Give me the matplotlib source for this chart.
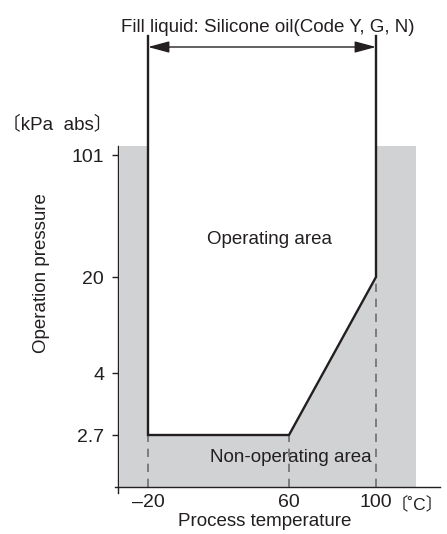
import numpy as np
import matplotlib
matplotlib.use("Agg")
import matplotlib.pyplot as plt

plt.rcParams['font.family'] = ['Liberation Sans', 'Noto Sans CJK JP', 'DejaVu Sans']

# ---- data ----
boundary_temp = [-20, -20, 60, 100, 100]          # operating-area boundary (°C)
boundary_pres = [180, 2.7, 2.7, 20, 180]           # kPa abs
x_ticks = [-20, 60, 100]
x_ticklabels = ["\u201320", "60", "100"]
y_ticks = [2.7, 4, 20, 101]
y_ticklabels = ["2.7", "4", "20", "101"]
dashed_temp = [-20, 60, 100]
dashed_top = [2.7, 2.7, 20]
gray_pres_top = 107

# schematic (non-linear) axis mappings
T_anchor = np.array([-60, -20, 60, 100, 160.0])
T_pos = np.array([77.5, 148, 289, 376, 511.5])
P_anchor = np.array([0.0, 2.7, 4, 20, 101, 400])
P_pos = np.array([52 - 2.7 * 47.7, 52, 114, 210, 332, 332 + 299 * 1.506])

def fx(t): return np.interp(t, T_anchor, T_pos)
def ix(p): return np.interp(p, T_pos, T_anchor)
def fy(v): return np.interp(v, P_anchor, P_pos)
def iy(p): return np.interp(p, P_pos, P_anchor)

W, H = 447, 534
fig = plt.figure(figsize=(W / 100, H / 100), dpi=100)
ax = fig.add_axes([118 / W, (H - 487) / H, (440 - 118) / W, (487 - 37) / H])
ax.set_xscale('function', functions=(fx, ix))
ax.set_yscale('function', functions=(fy, iy))
xlo, xhi = ix(118), ix(440)
ylo, yhi = iy(0), iy(450)
ax.set_xlim(xlo, xhi)
ax.set_ylim(ylo, yhi)

gray = "#d1d2d4"
ink = "#231f20"
ax.fill_between([ix(120), ix(416)], [ylo, ylo], [gray_pres_top, gray_pres_top],
                color=gray, lw=0, zorder=0)
# operating area white (extends above the gray so no seam)
ax.fill_between(boundary_temp[1:4], boundary_pres[1:4], [yhi] * 3,
                color="white", lw=0, zorder=1)

for t, top in zip(dashed_temp, dashed_top):
    ax.plot([t, t], [ylo, top], color="#6d6e70", lw=1.2, ls=(0, (5, 4)), zorder=2)

ax.plot(boundary_temp, boundary_pres, color=ink, lw=1.7, zorder=3,
        solid_joinstyle='miter', clip_on=False)

# double arrow
ax.annotate("", xy=(-20, iy(440)), xytext=(100, iy(440)),
            arrowprops=dict(arrowstyle="<|-|>,head_length=1.3,head_width=0.35",
                            color=ink, lw=1.0, shrinkA=0, shrinkB=0))

for s in ['top', 'right']:
    ax.spines[s].set_visible(False)
ax.spines['left'].set_bounds(iy(-6), gray_pres_top)
ax.spines['bottom'].set_bounds(ix(115), xhi)
for s in ['left', 'bottom']:
    ax.spines[s].set_color(ink)
    ax.spines[s].set_linewidth(1.0)

ax.set_yticks(y_ticks)
ax.set_yticklabels(y_ticklabels)
ax.set_xticks(x_ticks)
ax.set_xticklabels(x_ticklabels)
ax.tick_params(axis='y', length=4, width=1.0, pad=6, labelsize=14, color=ink,
               labelcolor=ink)
ax.tick_params(axis='x', length=0, pad=5, labelsize=14, labelcolor=ink)
ax.minorticks_off()

fs = 13.5
fig.text(268 / W, 1 - 27 / H, "Fill liquid: Silicone oil(Code Y, G, N)",
         ha='center', va='center', fontsize=fs, color=ink)
fig.text(2 / W, 1 - 124 / H, "\u3014kPa  abs\u3015", ha='left', va='center',
         fontsize=fs, color=ink)
fig.text(42 / W, 1 - 273 / H, "Operation pressure", rotation=90,
         ha='center', va='center', fontsize=fs, color=ink)
fig.text(265 / W, 1 - 522 / H, "Process temperature", ha='center', va='center',
         fontsize=fs, color=ink)
fig.text(391 / W, 1 - 505 / H, "\u3014\u02daC\u3015", ha='left', va='center',
         fontsize=12.5, color=ink)
ax.text(ix(270), iy(487 - 240), "Operating area", ha='center', va='center',
        fontsize=fs, color=ink)
ax.text(ix(291), iy(487 - 458), "Non-operating area", ha='center', va='center',
        fontsize=fs, color=ink, zorder=4)

fig.savefig("out.png", dpi=100)
